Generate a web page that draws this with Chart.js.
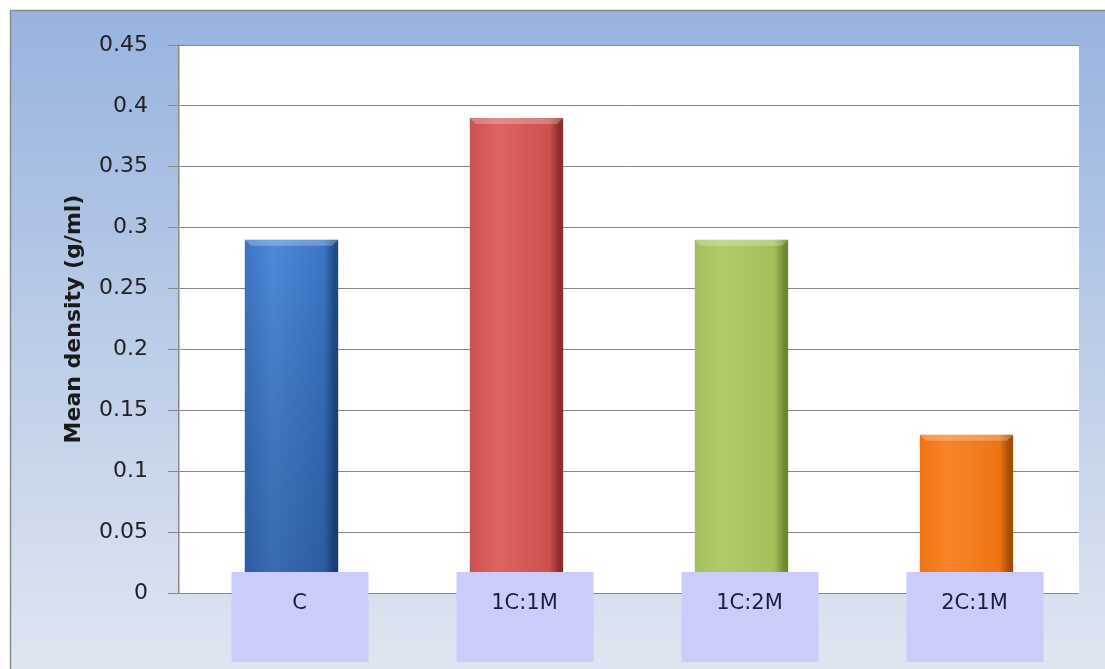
<!DOCTYPE html>
<html>
<head>
<meta charset="utf-8">
<script src="https://cdn.jsdelivr.net/npm/chart.js"></script>
<style>
  html, body { margin: 0; padding: 0; background: #ffffff; }
  #wrap { width: 1105px; height: 669px; position: relative; }
</style>
</head>
<body>
<div id="wrap"><canvas id="chart" width="1105" height="669"></canvas></div>
<script>
// data
const categories = ['C', '1C:1M', '1C:2M', '2C:1M'];
const densities = [0.29, 0.39, 0.29, 0.13];
const yTicks = [0, 0.05, 0.1, 0.15, 0.2, 0.25, 0.3, 0.35, 0.4, 0.45];
const yTitle = 'Mean density (g/ml)';

// colours per bar: [light, base, dark edge], and how much the bottom darkens
const barColors = [
    ['#4d8ad9', '#3a76c6', '#1f4c86'],
    ['#dc6461', '#cc524f', '#8c2e2c'],
    ['#b0cc6a', '#a3c05b', '#6a8a2f'],
    ['#f8852a', '#ef7412', '#a54c05']
];
const bottomShade = [0.28, 0, 0, 0];
const barPct = 0.415;

function barFill(ctx) {
    const chart = ctx.chart;
    const c = barColors[ctx.dataIndex];
    if (!chart.chartArea) return c[1];
    const xs = chart.scales.x;
    const x = xs.getPixelForValue(ctx.dataIndex);
    const half = (xs.width / categories.length) * barPct / 2;
    const g = chart.ctx.createLinearGradient(x - half, 0, x + half, 0);
    g.addColorStop(0, c[1]);
    g.addColorStop(0.3, c[0]);
    g.addColorStop(0.85, c[1]);
    g.addColorStop(0.96, c[2]);
    g.addColorStop(1, c[2]);
    return g;
}

// background gradient + white plot area + outer border
const backdrop = {
    id: 'backdrop',
    beforeDraw(chart) {
        const { ctx, chartArea, width, height } = chart;
        ctx.save();
        const g = ctx.createLinearGradient(0, 10, 0, height);
        g.addColorStop(0, '#97b3df');
        g.addColorStop(1, '#dfe6f1');
        ctx.fillStyle = g;
        ctx.fillRect(10, 10, width - 10, height - 10);
        ctx.strokeStyle = '#8c8c8c';
        ctx.lineWidth = 1.5;
        ctx.beginPath();
        ctx.moveTo(10.5, height);
        ctx.lineTo(10.5, 10.5);
        ctx.lineTo(width, 10.5);
        ctx.stroke();
        ctx.fillStyle = '#ffffff';
        ctx.fillRect(chartArea.left, chartArea.top, chartArea.right - chartArea.left, chartArea.bottom - chartArea.top);
        ctx.restore();
    }
};

// bevel and shading on bars, then lavender category boxes with labels
const labelBoxes = {
    id: 'labelBoxes',
    afterDatasetsDraw(chart) {
        const { ctx } = chart;
        const meta = chart.getDatasetMeta(0);
        ctx.save();
        meta.data.forEach((bar, i) => {
            const half = bar.width / 2;
            if (bottomShade[i] > 0) {
                const sg = ctx.createLinearGradient(0, bar.y, 0, bar.base);
                sg.addColorStop(0, 'rgba(0,0,0,0)');
                sg.addColorStop(1, 'rgba(0,20,60,' + bottomShade[i] + ')');
                ctx.fillStyle = sg;
                ctx.fillRect(bar.x - half, bar.y, bar.width, bar.base - bar.y);
            }
            ctx.fillStyle = 'rgba(255,255,255,0.25)';
            ctx.beginPath();
            ctx.moveTo(bar.x - half, bar.y);
            ctx.lineTo(bar.x + half, bar.y);
            ctx.lineTo(bar.x + half - 6, bar.y + 6);
            ctx.lineTo(bar.x - half + 6, bar.y + 6);
            ctx.closePath();
            ctx.fill();
        });
        const xs = chart.scales.x;
        const bottom = chart.chartArea.bottom;
        ctx.font = '21px "DejaVu Sans"';
        ctx.textAlign = 'center';
        ctx.textBaseline = 'middle';
        categories.forEach((cat, i) => {
            const left = xs.getPixelForValue(i) - 60;
            ctx.fillStyle = '#ccccfc';
            ctx.fillRect(left, bottom - 21, 137, 90);
            ctx.fillStyle = '#1e1e3a';
            ctx.fillText(cat, left + 68, bottom + 11);
        });
        ctx.restore();
    }
};

new Chart(document.getElementById('chart'), {
    type: 'bar',
    data: {
        labels: categories,
        datasets: [{
            data: densities,
            backgroundColor: barFill,
            borderWidth: 0,
            barPercentage: barPct,
            categoryPercentage: 1
        }]
    },
    options: {
        responsive: false,
        animation: false,
        layout: { padding: { left: 10, top: 45, right: 26, bottom: 76 } },
        plugins: {
            legend: { display: false },
            tooltip: { enabled: false }
        },
        scales: {
            x: { display: false },
            y: {
                min: 0,
                max: 0.45,
                afterBuildTicks: (scale) => { scale.ticks = yTicks.map(v => ({ value: v })); },
                afterFit: (scale) => { scale.width = 169; },
                ticks: {
                    padding: 20,
                    color: '#222222',
                    font: { family: 'DejaVu Sans', size: 22 },
                    callback: (v) => String(+Number(v).toFixed(2))
                },
                grid: { color: '#878787', lineWidth: 1, tickLength: 11 },
                border: { color: '#878787', width: 1.5 },
                title: {
                    display: true,
                    text: yTitle,
                    color: '#1a1a1a',
                    font: { family: 'DejaVu Sans', size: 22, weight: 'bold' },
                    padding: { top: 51, bottom: 0 }
                }
            }
        }
    },
    plugins: [backdrop, labelBoxes]
});
</script>
</body>
</html>
